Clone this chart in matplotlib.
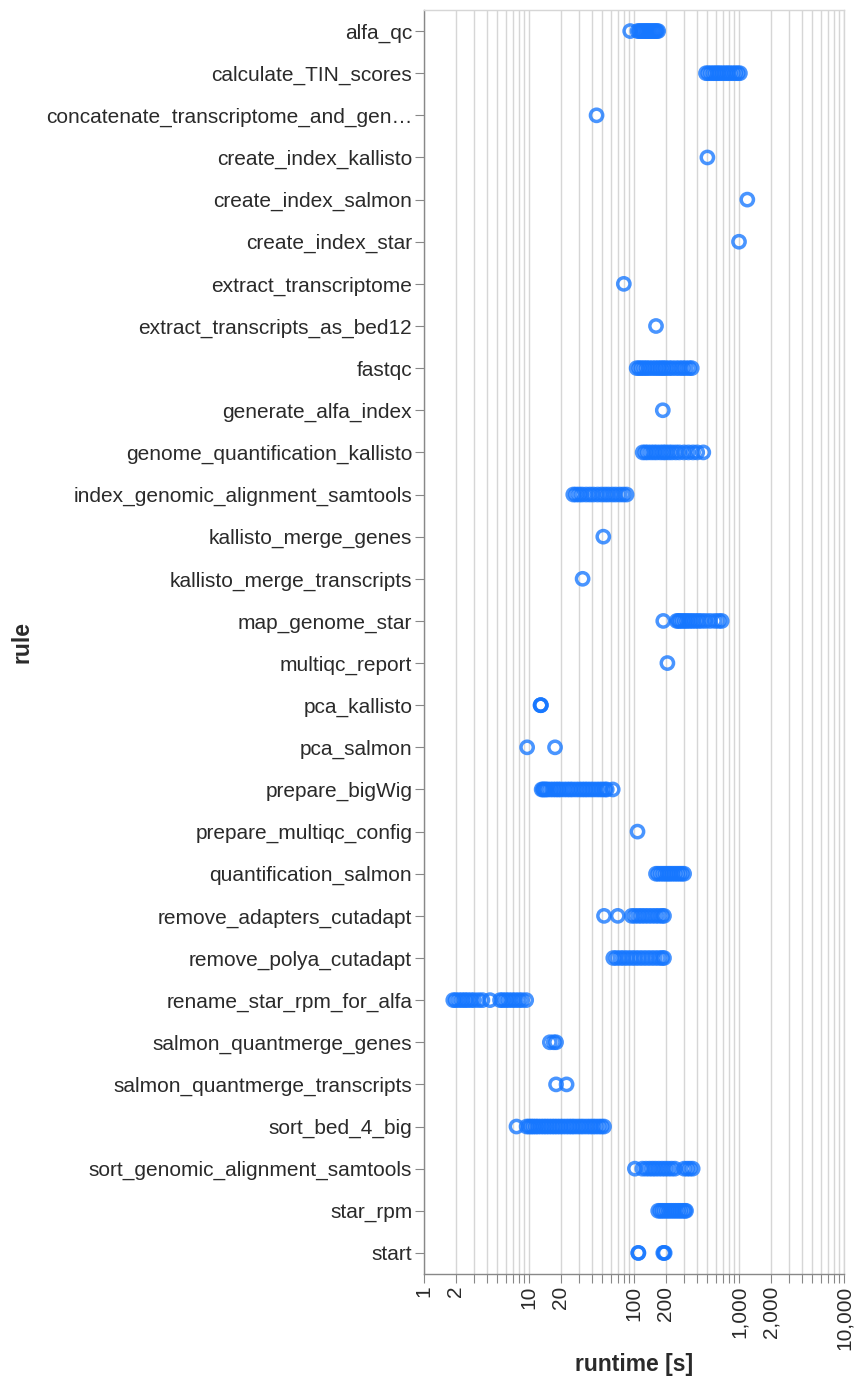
import matplotlib
matplotlib.use("Agg")
import matplotlib.pyplot as plt
from matplotlib.ticker import FixedLocator, FixedFormatter, NullLocator

plt.rcParams['font.family'] = ['Liberation Sans', 'DejaVu Sans']

# Runtime (seconds) of each job, grouped by rule
alfa_qc = [92, 108, 112, 116, 120, 124, 128, 132, 136, 140, 145, 150, 155, 160, 165, 170]
calculate_TIN_scores = [485, 510, 540, 570, 600, 630, 660, 700, 740, 780, 820, 870, 920, 970, 1020]
concatenate_transcriptome_and_genome = [44]
create_index_kallisto = [500]
create_index_salmon = [1200]
create_index_star = [1000]
extract_transcriptome = [80]
extract_transcripts_as_bed12 = [162]
fastqc = [106, 112, 118, 125, 132, 140, 150, 160, 170, 180, 190, 200, 215, 230, 250, 270, 290, 310, 335, 355]
generate_alfa_index = [188]
genome_quantification_kallisto = [121, 128, 135, 145, 155, 165, 178, 190, 200, 215, 230, 250, 270, 300, 330, 365, 400, 457]
index_genomic_alignment_samtools = [26.4, 28, 30, 32, 35, 38, 41, 45, 49, 53, 57, 62, 67, 73, 79, 85]
kallisto_merge_genes = [51]
kallisto_merge_transcripts = [32.4]
map_genome_star = [190, 255, 265, 275, 290, 305, 320, 340, 360, 385, 410, 440, 480, 530, 590, 640, 684]
multiqc_report = [208]
pca_kallisto = [12.9, 12.9, 13.0]
pca_salmon = [9.6, 17.7]
prepare_bigWig = [13.2, 13.6, 14, 14.5, 15, 16, 17, 18, 19, 20, 21.5, 23, 24.5, 26, 28, 30, 32, 34,
                  36, 38.5, 41, 44, 47, 50, 53, 55, 62.7]
prepare_multiqc_config = [108]
quantification_salmon = [162, 170, 180, 190, 200, 210, 220, 232, 245, 258, 272, 286, 300]
remove_adapters_cutadapt = [51.8, 70, 95, 102, 110, 118, 127, 137, 148, 160, 172, 185, 193]
remove_polya_cutadapt = [63.5, 68, 74, 80, 87, 95, 103, 112, 122, 133, 145, 158, 172, 185, 193]
rename_star_rpm_for_alfa = [1.9, 2.0, 2.15, 2.3, 2.45, 2.6, 2.8, 3.0, 3.3, 3.6, 4.25, 5.3, 5.6, 6.0,
                            6.4, 6.9, 7.4, 8.0, 8.6, 9.4]
salmon_quantmerge_genes = [15.8, 17.2, 18.1]
salmon_quantmerge_transcripts = [18.1, 22.8]
sort_bed_4_big = [7.6, 9.5, 10, 10.5, 11, 11.6, 12.2, 13, 13.8, 14.6, 15.5, 16.5, 17.5, 18.6, 19.8,
                  21, 22.5, 24, 25.5, 27, 29, 31, 33, 35.5, 38, 40.5, 43, 46, 49, 51.8]
sort_genomic_alignment_samtools = [102, 120, 130, 140, 150, 160, 172, 185, 198, 212, 228, 245,
                                   300, 320, 340, 362]
star_rpm = [170, 178, 186, 195, 205, 215, 226, 238, 250, 263, 276, 290, 305, 313]
start = [110, 110, 190, 193, 196]

rules = [
    ("alfa_qc", alfa_qc),
    ("calculate_TIN_scores", calculate_TIN_scores),
    ("concatenate_transcriptome_and_gen\u2026", concatenate_transcriptome_and_genome),
    ("create_index_kallisto", create_index_kallisto),
    ("create_index_salmon", create_index_salmon),
    ("create_index_star", create_index_star),
    ("extract_transcriptome", extract_transcriptome),
    ("extract_transcripts_as_bed12", extract_transcripts_as_bed12),
    ("fastqc", fastqc),
    ("generate_alfa_index", generate_alfa_index),
    ("genome_quantification_kallisto", genome_quantification_kallisto),
    ("index_genomic_alignment_samtools", index_genomic_alignment_samtools),
    ("kallisto_merge_genes", kallisto_merge_genes),
    ("kallisto_merge_transcripts", kallisto_merge_transcripts),
    ("map_genome_star", map_genome_star),
    ("multiqc_report", multiqc_report),
    ("pca_kallisto", pca_kallisto),
    ("pca_salmon", pca_salmon),
    ("prepare_bigWig", prepare_bigWig),
    ("prepare_multiqc_config", prepare_multiqc_config),
    ("quantification_salmon", quantification_salmon),
    ("remove_adapters_cutadapt", remove_adapters_cutadapt),
    ("remove_polya_cutadapt", remove_polya_cutadapt),
    ("rename_star_rpm_for_alfa", rename_star_rpm_for_alfa),
    ("salmon_quantmerge_genes", salmon_quantmerge_genes),
    ("salmon_quantmerge_transcripts", salmon_quantmerge_transcripts),
    ("sort_bed_4_big", sort_bed_4_big),
    ("sort_genomic_alignment_samtools", sort_genomic_alignment_samtools),
    ("star_rpm", star_rpm),
    ("start", start),
]

x_tick_values = [1, 2, 10, 20, 100, 200, 1000, 2000, 10000]

W, H = 856, 1387
fig = plt.figure(figsize=(W / 100, H / 100), dpi=100)
left, right, top, bottom = 424, 844, 10, 1274
ax = fig.add_axes([left / W, 1 - bottom / H, (right - left) / W, (bottom - top) / H])

POINT = '#1677ff'
GRID = '#d6d6d6'
DOMAIN = '#888888'
TEXT = '#2a2a2a'

for name, values in rules:
    ax.scatter(values, [name] * len(values), s=78, facecolors='none',
               edgecolors=POINT, linewidths=2.5, alpha=0.78, zorder=3)

ax.set_xscale('log')
ax.set_xlim(1, 10000)
ax.set_ylim(len(rules) - 0.5, -0.5)

# every integer multiple inside each decade carries a tick and a grid line
grid_positions = [m * 10 ** k for k in range(4) for m in range(1, 10)] + [10000]
grid_labels = [f"{v:,}" if v in x_tick_values else "" for v in grid_positions]
ax.xaxis.set_major_locator(FixedLocator(grid_positions))
ax.xaxis.set_major_formatter(FixedFormatter(grid_labels))
ax.xaxis.set_minor_locator(NullLocator())
ax.grid(axis='x', color=GRID, linewidth=1.0, zorder=0)
ax.set_axisbelow(True)

for lab in ax.get_xticklabels():
    lab.set_rotation(90)
    lab.set_va('top')
    lab.set_ha('center')

ax.tick_params(axis='x', length=6.5, width=0.8, color=DOMAIN, labelsize=15, pad=2,
               labelcolor=TEXT)
ax.tick_params(axis='y', length=6.5, width=0.8, color=DOMAIN, labelsize=15, pad=2,
               labelcolor=TEXT)

for side in ('left', 'bottom'):
    ax.spines[side].set_color(DOMAIN)
    ax.spines[side].set_linewidth(1.0)
for side in ('top', 'right'):
    ax.spines[side].set_color(GRID)
    ax.spines[side].set_linewidth(1.0)

fig.text(634 / W, 1 - 1365 / H, "runtime [s]", ha='center', va='center',
         fontsize=16.5, fontweight='bold', color=TEXT)
fig.text(22 / W, 1 - 642 / H, "rule", ha='center', va='center', rotation=90,
         fontsize=16.5, fontweight='bold', color=TEXT)

fig.savefig("out.png", dpi=100, facecolor='white')
